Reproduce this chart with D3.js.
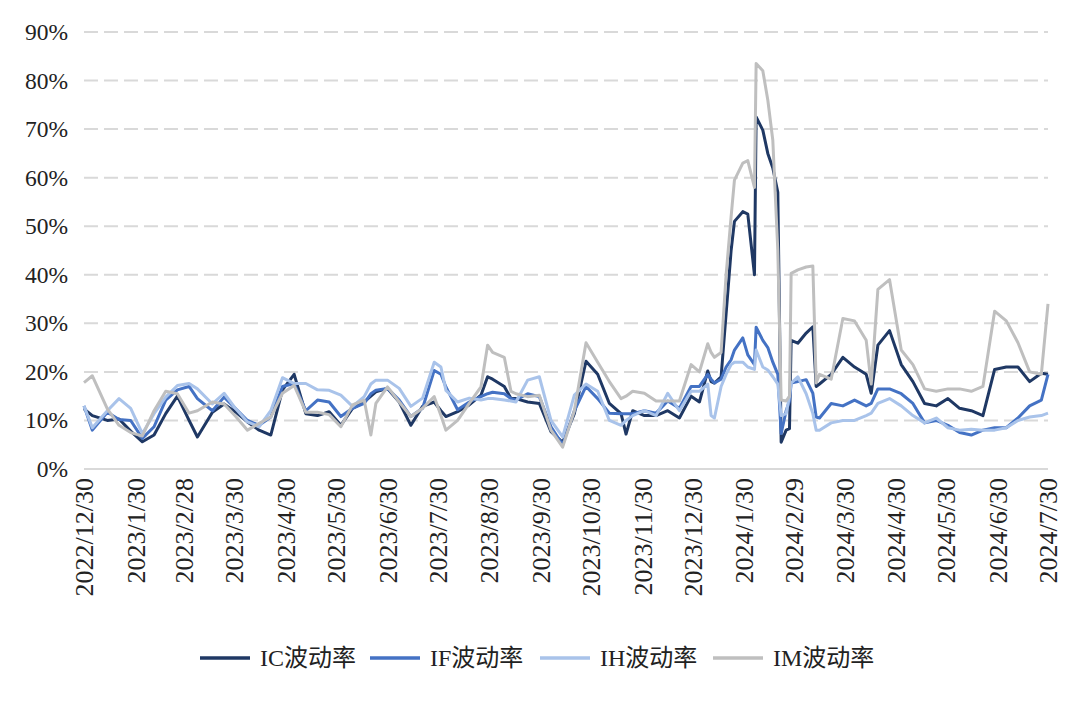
<!DOCTYPE html>
<html>
<head>
<meta charset="utf-8">
<script src="https://cdn.jsdelivr.net/npm/d3@7"></script>
<style>
  body { margin: 0; background: #fff; }
  text { font-family: "Liberation Serif", "Noto Sans CJK SC", serif; fill: #222; }
</style>
</head>
<body>
<div id="chart"></div>
<script>
// trading dates (sampled) and the four volatility series, in %
var dates = ["2022-12-30","2023-01-04","2023-01-13","2023-01-20","2023-01-27","2023-02-03","2023-02-10","2023-02-17","2023-02-24","2023-03-03",
  "2023-03-08","2023-03-17","2023-03-24","2023-03-31","2023-04-07","2023-04-14","2023-04-21","2023-04-28","2023-05-05","2023-05-12",
  "2023-05-19","2023-05-26","2023-06-02","2023-06-09","2023-06-16","2023-06-20","2023-06-23","2023-06-30","2023-07-07","2023-07-14",
  "2023-07-21","2023-07-28","2023-08-01","2023-08-04","2023-08-11","2023-08-18","2023-08-25","2023-08-29","2023-09-01","2023-09-08",
  "2023-09-12","2023-09-15","2023-09-22","2023-09-29","2023-10-06","2023-10-13","2023-10-20","2023-10-27","2023-11-03","2023-11-10",
  "2023-11-17","2023-11-20","2023-11-24","2023-12-01","2023-12-08","2023-12-15","2023-12-22","2023-12-29","2024-01-03","2024-01-08",
  "2024-01-10","2024-01-12","2024-01-16","2024-01-19","2024-01-22","2024-01-24","2024-01-29","2024-02-01","2024-02-05","2024-02-06",
  "2024-02-10","2024-02-13","2024-02-16","2024-02-19","2024-02-21","2024-02-24","2024-02-26","2024-02-27","2024-03-02","2024-03-07",
  "2024-03-11","2024-03-13","2024-03-15","2024-03-22","2024-03-29","2024-04-05","2024-04-12","2024-04-15","2024-04-19","2024-04-26",
  "2024-05-03","2024-05-10","2024-05-17","2024-05-24","2024-05-31","2024-06-07","2024-06-14","2024-06-21","2024-06-28","2024-07-05",
  "2024-07-12","2024-07-19","2024-07-26","2024-07-30"];

var icVol = [12.4,11.0,10.0,10.3,7.8,5.6,7.0,11.4,15.0,10.0,
  6.6,11.7,13.4,11.7,9.7,8.0,7.0,16.3,19.5,11.4,
  11.0,11.8,9.0,12.5,13.8,15.0,15.9,16.6,13.8,9.0,
  12.9,13.8,12.0,10.8,11.8,13.2,15.2,19.0,18.5,17.0,
  14.5,14.5,13.8,13.5,7.7,5.5,11.4,22.2,19.5,13.5,
  11.4,7.2,12.0,11.0,11.0,12.0,10.5,15.0,13.8,20.2,
  18.0,17.7,19.0,32.0,45.0,51.0,53.0,52.5,40.0,72.5,
  69.8,65.0,62.0,57.0,5.5,8.0,8.3,26.5,25.9,28.0,
  29.3,17.0,17.5,19.5,23.0,21.0,19.5,15.6,25.5,28.5,
  21.5,18.0,13.5,13.0,14.5,12.5,12.0,11.0,20.5,21.0,
  21.0,18.0,19.7,19.5];

var ifVol = [13.0,8.0,11.7,10.2,10.0,6.3,8.7,14.2,16.3,17.0,
  14.5,12.0,14.8,12.4,10.0,9.0,10.7,17.0,17.6,12.0,
  14.2,13.8,10.8,12.5,13.5,15.5,16.2,16.6,14.2,10.8,
  12.5,20.3,19.5,16.9,12.2,13.8,14.9,15.5,15.8,15.5,
  14.5,14.2,15.5,14.9,8.7,5.0,12.0,17.0,14.5,11.5,
  11.4,11.4,11.4,12.0,11.5,14.0,12.5,17.0,17.0,19.5,
  18.5,17.7,18.5,21.0,22.5,24.5,27.0,23.5,21.5,29.2,
  26.5,25.0,22.0,19.5,7.3,12.0,14.0,17.7,18.0,18.4,
  15.6,10.7,10.5,13.5,13.0,14.2,13.0,13.5,16.5,16.5,
  15.5,13.5,9.5,10.0,9.0,7.5,7.0,8.0,8.5,8.5,
  10.5,13.0,14.2,19.5];

var ihVol = [13.0,8.5,12.0,14.5,12.5,7.3,11.4,14.8,17.2,17.6,
  16.5,13.4,15.6,12.4,9.7,8.7,12.0,18.8,17.6,17.6,
  16.3,16.2,15.2,12.9,14.9,17.5,18.3,18.3,16.6,12.9,
  14.6,22.0,21.0,16.2,13.8,14.6,14.2,14.5,14.5,14.2,
  14.0,13.8,18.3,19.0,10.0,6.6,15.2,17.5,16.0,10.0,
  9.0,10.0,11.0,12.0,11.0,15.6,12.0,16.0,16.0,17.5,
  11.0,10.5,17.0,19.5,21.5,22.0,22.0,21.0,20.5,24.5,
  21.0,20.4,19.0,17.5,11.0,11.4,15.0,17.7,19.0,15.5,
  11.4,8.0,8.0,9.5,10.0,10.0,11.0,11.5,13.5,14.5,
  13.0,11.0,9.5,10.5,8.5,8.0,8.2,8.0,8.0,8.5,
  10.0,10.7,11.0,11.5];

var imVol = [17.8,19.2,12.4,9.0,7.5,6.8,12.0,16.0,15.5,11.5,
  12.0,13.8,13.4,10.8,8.0,9.4,10.7,15.6,17.2,11.7,
  11.7,11.2,8.7,13.2,14.2,7.0,13.5,16.9,13.8,10.8,
  12.5,14.9,11.0,8.0,10.0,13.5,16.9,25.5,24.0,23.0,
  16.0,15.5,14.9,15.2,8.0,4.5,12.0,26.0,22.0,18.0,
  14.5,15.0,16.0,15.6,14.0,14.0,14.0,21.5,20.0,25.8,
  24.0,23.0,24.0,40.0,52.0,59.5,63.0,63.5,58.0,83.5,
  82.0,76.0,67.7,45.0,14.2,14.0,15.0,40.3,41.0,41.6,
  41.8,17.7,19.5,18.5,31.0,30.5,26.5,17.5,37.0,39.0,
  24.5,21.5,16.5,16.0,16.5,16.5,16.0,17.0,32.5,30.5,
  26.0,20.0,19.5,34.0];

var seriesNames = ["IC波动率", "IF波动率", "IH波动率", "IM波动率"];
var seriesColors = ["#1f3864", "#4472c4", "#a9c3ea", "#bfbfbf"];

// x-axis tick labels (month steps from the first date)
var tickDates = ["2022-12-30","2023-01-30","2023-02-28","2023-03-30","2023-04-30","2023-05-30","2023-06-30","2023-07-30",
  "2023-08-30","2023-09-30","2023-10-30","2023-11-30","2023-12-30","2024-01-30","2024-02-29","2024-03-30",
  "2024-04-30","2024-05-30","2024-06-30","2024-07-30"];
var yTicks = [0, 10, 20, 30, 40, 50, 60, 70, 80, 90];

var svgWidth = 1080;
var svgHeight = 701;
var margin = { top: 32, right: 32, bottom: 232, left: 84 };
var width = svgWidth - margin.left - margin.right;
var height = svgHeight - margin.top - margin.bottom;

var parseDate = d3.timeParse("%Y-%m-%d");
var fmtDate = d3.timeFormat("%Y/%-m/%-d");

var svg = d3.select("#chart")
  .append("svg")
  .attr("width", svgWidth)
  .attr("height", svgHeight);

var chartGroup = svg.append("g")
  .attr("transform", `translate(${margin.left}, ${margin.top})`);

var xTimeScale = d3.scaleTime()
  .domain([parseDate(dates[0]), parseDate(dates[dates.length - 1])])
  .range([0, width]);

var yLinearScale = d3.scaleLinear()
  .domain([0, 90])
  .range([height, 0]);

// gridlines
chartGroup.append("g")
  .selectAll("line")
  .data(yTicks)
  .enter()
  .append("line")
  .attr("x1", 0)
  .attr("x2", width)
  .attr("y1", d => yLinearScale(d))
  .attr("y2", d => yLinearScale(d))
  .attr("stroke", "#d9d9d9")
  .attr("stroke-width", 2)
  .attr("stroke-dasharray", d => d === 0 ? null : "14,6");

// y axis labels
var leftAxis = d3.axisLeft(yLinearScale)
  .tickValues(yTicks)
  .tickSize(0)
  .tickPadding(16)
  .tickFormat(d => d + "%");

chartGroup.append("g")
  .call(leftAxis)
  .call(g => g.select(".domain").remove())
  .selectAll("text")
  .attr("font-size", "23.5px")
  .attr("fill", "#222");

// x axis labels, rotated
var bottomAxis = d3.axisBottom(xTimeScale)
  .tickValues(tickDates.map(parseDate))
  .tickSize(0)
  .tickFormat(fmtDate);

chartGroup.append("g")
  .attr("transform", `translate(0, ${height})`)
  .call(bottomAxis)
  .call(g => g.select(".domain").remove())
  .selectAll("text")
  .attr("font-size", "26px")
  .attr("fill", "#222")
  .attr("text-anchor", "end")
  .attr("dy", null)
  .attr("dominant-baseline", "central")
  .attr("transform", "translate(0, 9) rotate(-90)")
  .attr("x", 0)
  .attr("y", 0);

// lines
var allSeries = [icVol, ifVol, ihVol, imVol];
var line = d3.line()
  .x((d, i) => xTimeScale(parseDate(dates[i])))
  .y(d => yLinearScale(d));

chartGroup.selectAll(".vol-line")
  .data(allSeries)
  .enter()
  .append("path")
  .attr("class", "vol-line")
  .attr("d", d => line(d))
  .attr("fill", "none")
  .attr("stroke", (d, i) => seriesColors[i])
  .attr("stroke-width", 3)
  .attr("stroke-linejoin", "round");

// legend
var legendX = [200, 370, 540, 713];
var legend = svg.append("g")
  .attr("transform", "translate(0, 658)");

var legendItem = legend.selectAll("g")
  .data(seriesNames)
  .enter()
  .append("g")
  .attr("transform", (d, i) => `translate(${legendX[i]}, 0)`);

legendItem.append("line")
  .attr("x1", 0)
  .attr("x2", 50)
  .attr("stroke", (d, i) => seriesColors[i])
  .attr("stroke-width", 3.5);

legendItem.append("text")
  .attr("x", 60)
  .attr("dominant-baseline", "central")
  .attr("font-size", "24px")
  .text(d => d);
</script>
</body>
</html>
